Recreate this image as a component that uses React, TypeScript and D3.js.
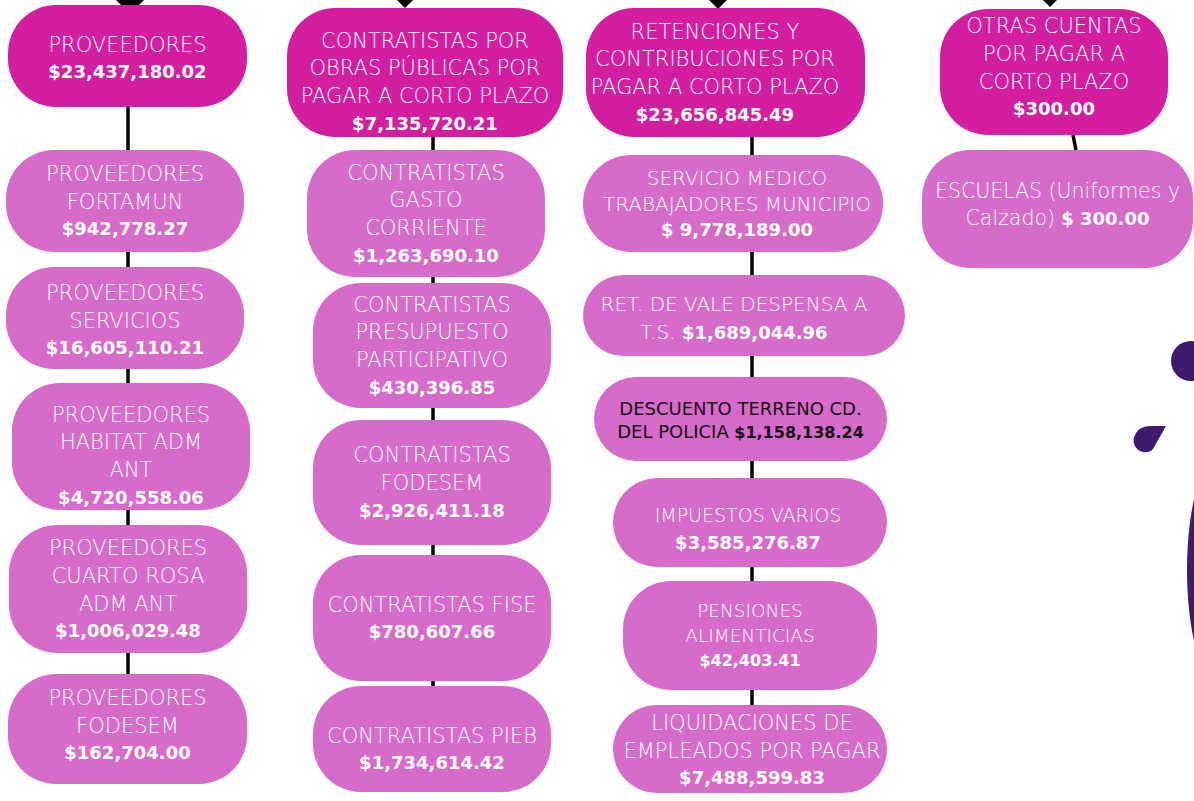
import React from "react";
import * as d3 from "d3";

// ---------- DATA ----------
const groupLabels: string[][] = [
  ["PROVEEDORES"],
  ["CONTRATISTAS POR", "OBRAS PÚBLICAS POR", "PAGAR A CORTO PLAZO"],
  ["RETENCIONES Y", "CONTRIBUCIONES POR", "PAGAR A CORTO PLAZO"],
  ["OTRAS CUENTAS", "POR PAGAR A", "CORTO PLAZO"],
];
const groupTotals = [23437180.02, 7135720.21, 23656845.49, 300.0];

const proveedoresLabels: string[][] = [
  ["PROVEEDORES", "FORTAMUN"],
  ["PROVEEDORES", "SERVICIOS"],
  ["PROVEEDORES", "HABITAT ADM", "ANT"],
  ["PROVEEDORES", "CUARTO ROSA", "ADM ANT"],
  ["PROVEEDORES", "FODESEM"],
];
const proveedoresValues = [942778.27, 16605110.21, 4720558.06, 1006029.48, 162704.0];

const contratistasLabels: string[][] = [
  ["CONTRATISTAS", "GASTO", "CORRIENTE"],
  ["CONTRATISTAS", "PRESUPUESTO", "PARTICIPATIVO"],
  ["CONTRATISTAS", "FODESEM"],
  ["CONTRATISTAS FISE"],
  ["CONTRATISTAS PIEB"],
];
const contratistasValues = [1263690.1, 430396.85, 2926411.18, 780607.66, 1734614.42];

const retencionesLabels: string[][] = [
  ["SERVICIO MEDICO", "TRABAJADORES MUNICIPIO"],
  ["RET. DE VALE DESPENSA A", "T.S."],
  ["DESCUENTO TERRENO CD.", "DEL POLICIA"],
  ["IMPUESTOS VARIOS"],
  ["PENSIONES", "ALIMENTICIAS"],
  ["LIQUIDACIONES DE", "EMPLEADOS POR PAGAR"],
];
const retencionesValues = [9778189.0, 1689044.96, 1158138.24, 3585276.87, 42403.41, 7488599.83];

const otrasLabels: string[][] = [["ESCUELAS (Uniformes y", "Calzado)"]];
const otrasValues = [300.0];

// ---------- LAYOUT / STYLE ----------
type Box = {
  r: [number, number, number, number];
  cx?: number;
  dy?: number;
  fs?: number;
  vfs?: number;
  sp?: number;
  inline?: boolean;
  gap?: boolean;
  dark?: boolean;
};

const parentBoxes: Box[] = [
  { r: [8, 5, 247, 107], dy: 2 },
  { r: [287, 8, 563, 137], dy: 9 },
  { r: [586, 8, 865, 137], cx: 715 },
  { r: [940, 9, 1168, 135], dy: -5 },
];

const childBoxes: Box[][] = [
  [
    { r: [6, 150, 244, 252] },
    { r: [6, 267, 244, 369], dy: 2 },
    { r: [12, 383, 250, 510], dy: 9 },
    { r: [9, 525, 247, 653] },
    { r: [8, 674, 247, 784], dy: -4 },
  ],
  [
    { r: [307, 150, 545, 277] },
    { r: [313, 283, 551, 408] },
    { r: [313, 420, 551, 545] },
    { r: [313, 555, 551, 681] },
    { r: [313, 686, 551, 792], dy: 10 },
  ],
  [
    { r: [583, 155, 883, 252], cx: 737, fs: 20, sp: 26, gap: true },
    { r: [583, 275, 905, 356], cx: 734, fs: 20, dy: 2, inline: true },
    { r: [594, 377, 887, 461], fs: 18, vfs: 16, sp: 23, dy: 1, inline: true, dark: true },
    { r: [613, 478, 887, 567], cx: 748, fs: 19, dy: 6 },
    { r: [623, 581, 877, 690], fs: 18.5, vfs: 16, sp: 25 },
    { r: [613, 705, 887, 793], cx: 752, dy: 1 },
  ],
  [{ r: [922, 150, 1193, 268], fs: 20.5, dy: -5, inline: true, gap: true }],
];

const connectors: [number, number, number, number][] = [
  [128, 107, 128, 674],
  [433, 137, 433, 686],
  [752, 137, 752, 705],
  [1073, 135, 1076, 150],
];

const arrowTips: [number, number][] = [
  [130, 14],
  [405, 8],
  [718, 9],
  [1050, 7],
];

const PARENT_FILL = "#d41ea0";
const CHILD_FILL = "#d76bc9";
const PURPLE = "#3f1a6f";
const FONT = "'DejaVu Sans', 'Noto Sans', sans-serif";

const fmt = d3.format("$,.2f");
const money = (v: number, gap?: boolean) => {
  const s = fmt(v);
  return gap ? s.replace("$", "$ ") : s;
};

function Node({ box, labels, value, fill }: { box: Box; labels: string[]; value: number; fill: string }) {
  const [x0, y0, x1, y1] = box.r;
  const w = x1 - x0;
  const h = y1 - y0;
  const rad = Math.min(48, h / 2);
  const cx = box.cx ?? (x0 + x1) / 2;
  const fs = box.fs ?? 21;
  const vfs = box.vfs ?? 18;
  const sp = box.sp ?? 27.7;
  const color = box.dark ? "#140a14" : "#ffffff";
  const nameWeight = box.dark ? 400 : 300;
  const valueText = money(value, box.gap);
  const n = box.inline ? labels.length : labels.length + 1;
  const c = (y0 + y1) / 2 + (box.dy ?? 0);
  const lineY = d3.scaleLinear().domain([0, n - 1 || 1]).range([c - ((n - 1) * sp) / 2, c + ((n - 1) * sp) / 2]);
  const lines: React.ReactNode[] = [];
  labels.forEach((lab, i) => {
    const isLast = i === labels.length - 1;
    lines.push(
      <text
        key={"l" + i}
        x={cx}
        y={lineY(i) + 0.365 * fs}
        textAnchor="middle"
        fontSize={fs}
        fontWeight={nameWeight}
        fill={color}
        fontFamily={FONT}
      >
        {lab}
        {box.inline && isLast ? (
          <tspan fontWeight={700} fontSize={vfs}>
            {" " + valueText}
          </tspan>
        ) : null}
      </text>
    );
  });
  if (!box.inline) {
    lines.push(
      <text
        key="v"
        x={cx}
        y={lineY(labels.length) + 0.365 * vfs}
        textAnchor="middle"
        fontSize={vfs}
        fontWeight={700}
        fill={color}
        fontFamily={FONT}
      >
        {valueText}
      </text>
    );
  }
  return (
    <g>
      <rect x={x0} y={y0} width={w} height={h} rx={rad} ry={rad} fill={fill} />
      {lines}
    </g>
  );
}

export default function App() {
  const childLabels = [proveedoresLabels, contratistasLabels, retencionesLabels, otrasLabels];
  const childValues = [proveedoresValues, contratistasValues, retencionesValues, otrasValues];
  return (
    <svg
      width={1194}
      height={801}
      viewBox="0 0 1194 801"
      style={{ position: "absolute", left: 0, top: 0, display: "block", background: "#ffffff" }}
    >
      <rect x={0} y={0} width={1194} height={801} fill="#ffffff" />
      {/* decorative shapes */}
      <circle cx={1191} cy={361} r={20} fill={PURPLE} />
      <path
        d="M1166,426 L1153,449 Q1149,453 1143,452 A12,12 0 0 1 1134,437 Q1138,426 1150,426 Z"
        fill={PURPLE}
      />
      <ellipse cx={1217} cy={570} rx={30} ry={110} fill={PURPLE} />
      {/* connectors */}
      {connectors.map(([xa, ya, xb, yb], i) => (
        <line key={"c" + i} x1={xa} y1={ya} x2={xb} y2={yb} stroke="#000" strokeWidth={3.5} />
      ))}
      {arrowTips.map(([x, t], i) => (
        <polygon
          key={"a" + i}
          points={`${x - 15},${t - 15} ${x},${t} ${x + 15},${t - 15} ${x},${t - 30}`}
          fill="#000"
        />
      ))}
      {groupLabels.map((lab, gi) => (
        <g key={"g" + gi}>
          <Node box={parentBoxes[gi]} labels={lab} value={groupTotals[gi]} fill={PARENT_FILL} />
          {childLabels[gi].map((cl, ci) => (
            <Node
              key={"n" + ci}
              box={childBoxes[gi][ci]}
              labels={cl}
              value={childValues[gi][ci]}
              fill={CHILD_FILL}
            />
          ))}
        </g>
      ))}
    </svg>
  );
}
